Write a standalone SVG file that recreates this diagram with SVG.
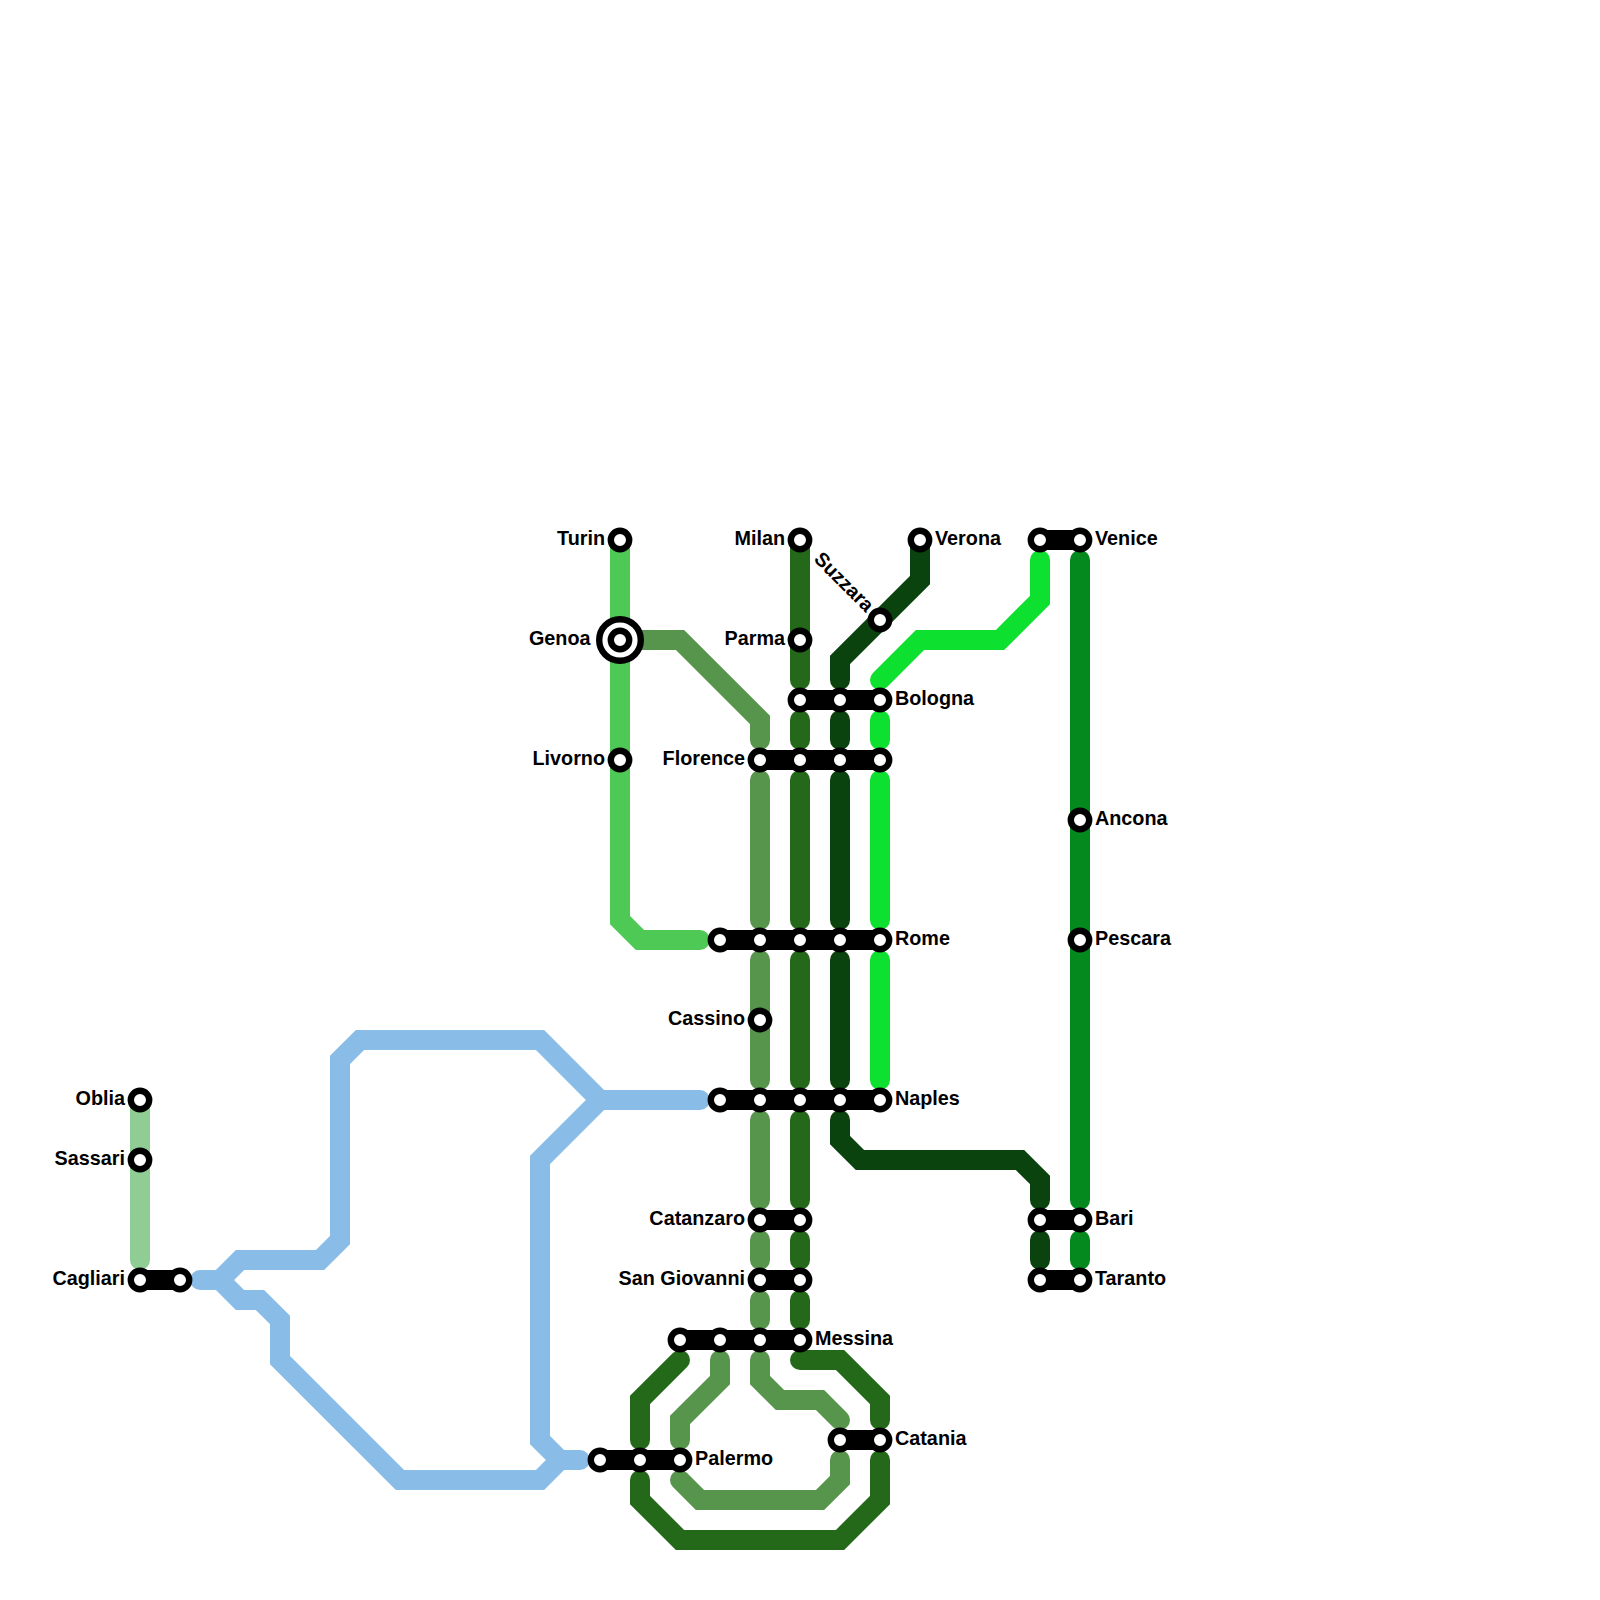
<svg xmlns="http://www.w3.org/2000/svg" width="1600" height="1600" viewBox="0 0 1600 1600">
<style>
.l{fill:none;stroke-width:20;stroke-linecap:round;stroke-linejoin:miter}
.a{stroke:#4fc956}.b{stroke:#57944c}.c{stroke:#24691a}.d{stroke:#0a430e}.e{stroke:#0ee030}.f{stroke:#03891e}.g{stroke:#8fcd94}.h{stroke:#89bde8}
.x{fill:none;stroke:#000;stroke-width:20;stroke-linecap:round}
.s{fill:#fff;stroke:#000;stroke-width:6.4}
text{font-family:"Liberation Sans",Arial,sans-serif;font-weight:700;font-size:19.8px;fill:#000}
.r{text-anchor:end}
</style>
<rect width="1600" height="1600" fill="#fff"/>
<g id="connectors">
<path class="l a" d="M620 540V920L640 940H700"/>
<path class="l b" d="M620 640H680L760 720V740M760 780V920M760 960V1080M760 1120V1200M760 1240V1260M760 1300V1320M760 1360V1380L780 1400H820L840 1420M840 1460V1480L820 1500H700L680 1480M680 1440V1420L720 1380V1360"/>
<path class="l c" d="M800 540V680M800 720V740M800 780V920M800 960V1080M800 1120V1200M800 1240V1260M800 1300V1320M800 1360H840L880 1400V1420M880 1460V1500L840 1540H680L640 1500V1480M640 1440V1400L680 1360"/>
<path class="l d" d="M920 540V580L840 660V680M840 720V740M840 780V920M840 960V1080M840 1120V1140L860 1160H1020L1040 1180V1200M1040 1240V1260"/>
<path class="l e" d="M1040 560V600L1000 640H920L880 680M880 720V740M880 780V920M880 960V1080"/>
<path class="l f" d="M1080 560V1200M1080 1240V1260"/>
<path class="l g" d="M140 1100V1260"/>
<path class="l h" d="M200 1280H220L240 1260H320L340 1240V1060L360 1040H540L600 1100H700M220 1280L240 1300H260L280 1320V1360L400 1480H540L560 1460H580M600 1100L540 1160V1440L560 1460"/>
<path class="x" d="M140 1280H180M600 1460H680M680 1340H800M760 1220H800M760 1280H800M840 1440H880M720 1100H880M720 940H880M760 760H880M800 700H880M1040 540H1080M1040 1220H1080M1040 1280H1080"/>
</g>
<g id="n-turin"><circle class="s" cx="620" cy="540" r="9.2"/><text class="r" x="605" y="545">Turin</text></g>
<g id="n-genoa"><circle cx="620" cy="640" r="20.8" fill="#fff" stroke="#000" stroke-width="6.4"/><circle class="s" cx="620" cy="640" r="9.2"/><text class="r" x="590.5" y="645">Genoa</text></g>
<g id="n-livorno"><circle class="s" cx="620" cy="760" r="9.2"/><text class="r" x="605" y="765">Livorno</text></g>
<g id="n-milan"><circle class="s" cx="800" cy="540" r="9.2"/><text class="r" x="785" y="545">Milan</text></g>
<g id="n-parma"><circle class="s" cx="800" cy="640" r="9.2"/><text class="r" x="785" y="645">Parma</text></g>
<g id="n-suzzara"><circle class="s" cx="880" cy="620" r="9.2"/><text class="r" transform="rotate(45 880 620)" x="865" y="625">Suzzara</text></g>
<g id="n-verona"><circle class="s" cx="920" cy="540" r="9.2"/><text x="935" y="545">Verona</text></g>
<g id="n-venice"><circle class="s" cx="1040" cy="540" r="9.2"/><circle class="s" cx="1080" cy="540" r="9.2"/><text x="1095" y="545">Venice</text></g>
<g id="n-bologna"><circle class="s" cx="800" cy="700" r="9.2"/><circle class="s" cx="840" cy="700" r="9.2"/><circle class="s" cx="880" cy="700" r="9.2"/><text x="895" y="705">Bologna</text></g>
<g id="n-florence"><circle class="s" cx="760" cy="760" r="9.2"/><circle class="s" cx="800" cy="760" r="9.2"/><circle class="s" cx="840" cy="760" r="9.2"/><circle class="s" cx="880" cy="760" r="9.2"/><text class="r" x="745" y="765">Florence</text></g>
<g id="n-ancona"><circle class="s" cx="1080" cy="820" r="9.2"/><text x="1095" y="825">Ancona</text></g>
<g id="n-pescara"><circle class="s" cx="1080" cy="940" r="9.2"/><text x="1095" y="945">Pescara</text></g>
<g id="n-rome"><circle class="s" cx="720" cy="940" r="9.2"/><circle class="s" cx="760" cy="940" r="9.2"/><circle class="s" cx="800" cy="940" r="9.2"/><circle class="s" cx="840" cy="940" r="9.2"/><circle class="s" cx="880" cy="940" r="9.2"/><text x="895" y="945">Rome</text></g>
<g id="n-cassino"><circle class="s" cx="760" cy="1020" r="9.2"/><text class="r" x="745" y="1025">Cassino</text></g>
<g id="n-naples"><circle class="s" cx="720" cy="1100" r="9.2"/><circle class="s" cx="760" cy="1100" r="9.2"/><circle class="s" cx="800" cy="1100" r="9.2"/><circle class="s" cx="840" cy="1100" r="9.2"/><circle class="s" cx="880" cy="1100" r="9.2"/><text x="895" y="1105">Naples</text></g>
<g id="n-oblia"><circle class="s" cx="140" cy="1100" r="9.2"/><text class="r" x="125" y="1105">Oblia</text></g>
<g id="n-sassari"><circle class="s" cx="140" cy="1160" r="9.2"/><text class="r" x="125" y="1165">Sassari</text></g>
<g id="n-cagliari"><circle class="s" cx="140" cy="1280" r="9.2"/><circle class="s" cx="180" cy="1280" r="9.2"/><text class="r" x="125" y="1285">Cagliari</text></g>
<g id="n-bari"><circle class="s" cx="1040" cy="1220" r="9.2"/><circle class="s" cx="1080" cy="1220" r="9.2"/><text x="1095" y="1225">Bari</text></g>
<g id="n-taranto"><circle class="s" cx="1040" cy="1280" r="9.2"/><circle class="s" cx="1080" cy="1280" r="9.2"/><text x="1095" y="1285">Taranto</text></g>
<g id="n-catanzaro"><circle class="s" cx="760" cy="1220" r="9.2"/><circle class="s" cx="800" cy="1220" r="9.2"/><text class="r" x="745" y="1225">Catanzaro</text></g>
<g id="n-sangiovanni"><circle class="s" cx="760" cy="1280" r="9.2"/><circle class="s" cx="800" cy="1280" r="9.2"/><text class="r" x="745" y="1285">San Giovanni</text></g>
<g id="n-messina"><circle class="s" cx="680" cy="1340" r="9.2"/><circle class="s" cx="720" cy="1340" r="9.2"/><circle class="s" cx="760" cy="1340" r="9.2"/><circle class="s" cx="800" cy="1340" r="9.2"/><text x="815" y="1345">Messina</text></g>
<g id="n-catania"><circle class="s" cx="840" cy="1440" r="9.2"/><circle class="s" cx="880" cy="1440" r="9.2"/><text x="895" y="1445">Catania</text></g>
<g id="n-palermo"><circle class="s" cx="600" cy="1460" r="9.2"/><circle class="s" cx="640" cy="1460" r="9.2"/><circle class="s" cx="680" cy="1460" r="9.2"/><text x="695" y="1465">Palermo</text></g>
</svg>
